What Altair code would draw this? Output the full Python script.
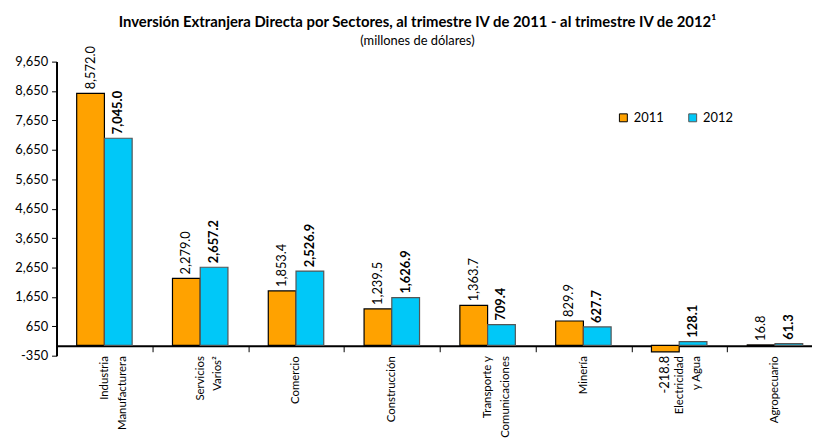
import altair as alt
import pandas as pd

categories = [
    "Industria|Manufacturera",
    "Servicios|Varios²",
    "Comercio",
    "Construcción",
    "Transporte y|Comunicaciones",
    "Minería",
    "Electricidad|y Agua",
    "Agropecuario",
]
years = ["2011", "2012"]
values_2011 = [8572.0, 2279.0, 1853.4, 1239.5, 1363.7, 829.9, -218.8, 16.8]
values_2012 = [7045.0, 2657.2, 2526.9, 1626.9, 709.4, 627.7, 128.1, 61.3]
y_ticks = [-350, 650, 1650, 2650, 3650, 4650, 5650, 6650, 7650, 8650, 9650]

rows = []
for c, a, b in zip(categories, values_2011, values_2012):
    rows.append({"sector": c, "year": "2011", "value": a})
    rows.append({"sector": c, "year": "2012", "value": b})
df = pd.DataFrame(rows)

FONT = "Lato"

x_enc = alt.X(
    "sector:N",
    sort=categories,
    scale=alt.Scale(paddingInner=0, paddingOuter=0, range=[0, 774]),
    axis=alt.Axis(
        title=None,
        labelAngle=270,
        labelAlign="right",
        labelBaseline="middle",
        labelExpr="split(datum.label, '|')",
        labelFont=FONT,
        labelFontSize=11.5,
        labelColor="black",
        labelLineHeight=18,
        labelPadding=4,
        labelOverlap=False,
        tickBand="extent",
        tickColor="black",
        tickSize=6,
        domainColor="black",
        domainWidth=2,
        offset=-10,
    ),
)
xo_enc = alt.XOffset("year:N", scale=alt.Scale(paddingOuter=0.727, paddingInner=0))
y_enc = alt.Y(
    "value:Q",
    scale=alt.Scale(domain=[-350, 9650], nice=False, zero=False),
    axis=alt.Axis(
        title=None,
        values=y_ticks,
        tickCount=len(y_ticks),
        labelExpr="replace(format(datum.value, ','), '\u2212', '-')",
        labelFont=FONT,
        labelFontSize=13,
        labelColor="black",
        labelPadding=4,
        labelOverlap=False,
        tickColor="black",
        tickSize=5,
        domainColor="black",
        domainWidth=2,
        grid=False,
    ),
)

base = alt.Chart(df).encode(x=x_enc, xOffset=xo_enc)

bars = base.mark_bar(strokeWidth=1.2).encode(
    y=y_enc,
    color=alt.Color(
        "year:N",
        scale=alt.Scale(domain=years, range=["#FFA200", "#00C8F8"]),
        legend=alt.Legend(
            title=None,
            orient="none",
            legendX=566,
            legendY=50,
            direction="horizontal",
            symbolType="square",
            symbolSize=64,
            symbolStrokeColor="black",
            symbolStrokeWidth=1,
            labelFont=FONT,
            labelFontSize=13,
            labelColor="black",
            columnPadding=22,
        ),
    ),
    stroke=alt.Stroke(
        "year:N",
        scale=alt.Scale(domain=years, range=["#000000", "#555555"]),
        legend=None,
    ),
)

label_expr = "replace(format(datum.value, ',.1f'), '\u2212', '-')"

pos_2011 = base.transform_filter(
    "datum.year == '2011' && datum.value >= 0"
).transform_calculate(lab=label_expr).mark_text(
    angle=270, align="left", baseline="middle", dx=4, font=FONT, fontSize=13, color="black"
).encode(y=alt.Y("value:Q"), text="lab:N")

neg_2011 = base.transform_filter(
    "datum.year == '2011' && datum.value < 0"
).transform_calculate(lab=label_expr).mark_text(
    angle=270, align="right", baseline="middle", dx=-4, font=FONT, fontSize=13, color="black"
).encode(y=alt.Y("value:Q"), text="lab:N")

pos_2012 = base.transform_filter(
    "datum.year == '2012'"
).transform_calculate(lab=label_expr).mark_text(
    angle=270, align="left", baseline="middle", dx=4, font=FONT, fontSize=13,
    fontWeight="bold", color="black"
).encode(y=alt.Y("value:Q"), text="lab:N")

chart = alt.layer(bars, pos_2011, neg_2011, pos_2012).properties(
    width=763,
    height=297,
    autosize=alt.AutoSizeParams(type="none"),
    padding={"left": 49, "top": 52, "right": 0, "bottom": 83},
    title=alt.TitleParams(
        text="Inversión Extranjera Directa por Sectores,  al trimestre IV de 2011 - al trimestre IV de 2012¹",
        subtitle="(millones de dólares)",
        font=FONT,
        fontSize=15,
        fontWeight="bold",
        color="black",
        subtitleFont=FONT,
        subtitleFontSize=13,
        subtitleColor="black",
        subtitlePadding=5,
        anchor="middle",
        frame="group",
        dx=-17,
        dy=6,
    ),
).configure_view(stroke=None)

chart.save("out.html", embed_options={"renderer": "svg", "actions": False})
